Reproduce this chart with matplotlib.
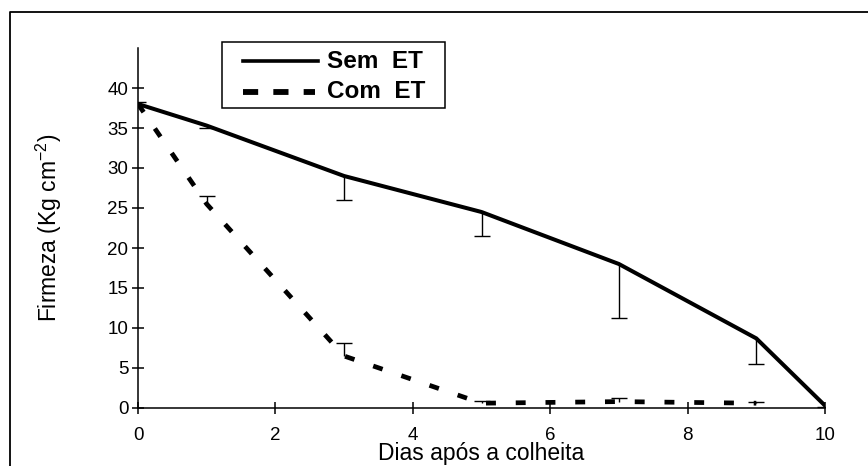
import matplotlib
matplotlib.use("Agg")
import matplotlib.pyplot as plt
from matplotlib.lines import Line2D
from matplotlib.patches import Rectangle

plt.rcParams['font.family'] = ['Liberation Sans', 'DejaVu Sans']

# Firmness (kg cm^-2) over days after harvest
dias_sem = [0, 1, 3, 5, 7, 9, 10]
firmeza_sem = [38.0, 35.3, 29.0, 24.5, 18.0, 8.7, 0.3]
erro_sem = [0.3, 0.3, 3.0, 3.0, 6.7, 3.2, 0.2]       # drawn below the mean

dias_com = [0, 1, 3, 5, 7, 9]
firmeza_com = [38.0, 25.5, 6.5, 0.6, 0.8, 0.6]
erro_com = [0.3, 1.0, 1.6, 0.3, 0.4, 0.2]           # drawn above the mean

x_ticks = [0, 2, 4, 6, 8, 10]
y_ticks = [0, 5, 10, 15, 20, 25, 30, 35, 40]
series_names = ['Sem  ET', 'Com  ET']

W, H = 868, 466
fig = plt.figure(figsize=(W / 100, H / 100), dpi=100)
ax = fig.add_axes([138 / W, 58 / H, 687 / W, 360 / H])


def fx(px):
    return px / W


def fy(py):
    return 1 - py / H


# outer chart frame (left and top edges)
fig.add_artist(Line2D([fx(10), fx(10), 1.0], [0.0, fy(12), fy(12)],
                      transform=fig.transFigure, color='black', lw=1.3))

ax.plot(dias_sem, firmeza_sem, color='black', lw=2.9, solid_joinstyle='miter')
dashed, = ax.plot(dias_com, firmeza_com, color='black', lw=3.4,
                  dash_capstyle='butt')
dashed.set_dashes([2.1, 4.2])


def one_sided_bars(x, y, err, down):
    ends = [v - e if down else v + e for v, e in zip(y, err)]
    ax.vlines(x, y, ends, colors='black', lw=1.0)
    ax.plot(x, ends, ls='none', marker='_', ms=11, mew=1.0, color='black')


one_sided_bars(dias_sem, firmeza_sem, erro_sem, down=True)
one_sided_bars(dias_com, firmeza_com, erro_com, down=False)

ax.set_xlim(0, 10)
ax.set_ylim(0, 45)
ax.set_xticks(x_ticks)
ax.set_yticks(y_ticks)
for s in ['top', 'right']:
    ax.spines[s].set_visible(False)
for s in ['left', 'bottom']:
    ax.spines[s].set_linewidth(1.1)
ax.tick_params(direction='inout', length=8, width=1.1, labelsize=13.5, pad=3)
ax.tick_params(axis='x', pad=10)

ax.set_xlabel('Dias após a colheita', fontsize=16.5, labelpad=-2)
ax.set_ylabel('Firmeza (Kg cm$^{\\mathregular{-2}}$)', fontsize=16.5, labelpad=31)

# legend box
fig.add_artist(Rectangle((fx(222), fy(108)), fx(445) - fx(222), fy(42) - fy(108),
                         transform=fig.transFigure, fill=False, ec='black', lw=1.1))
fig.add_artist(Line2D([fx(243), fx(318)], [fy(61), fy(61)],
                      transform=fig.transFigure, color='black', lw=2.6))
leg_dash = Line2D([fx(243), fx(315)], [fy(92), fy(92)], transform=fig.transFigure,
                  color='black', lw=4.2, dash_capstyle='butt')
leg_dash.set_dashes([2.6, 2.6])
fig.add_artist(leg_dash)
for name, py in zip(series_names, [61, 92]):
    fig.text(fx(327), fy(py), name, fontsize=17.5, fontweight='bold',
             va='center', ha='left')

fig.savefig('out.png', dpi=100)
